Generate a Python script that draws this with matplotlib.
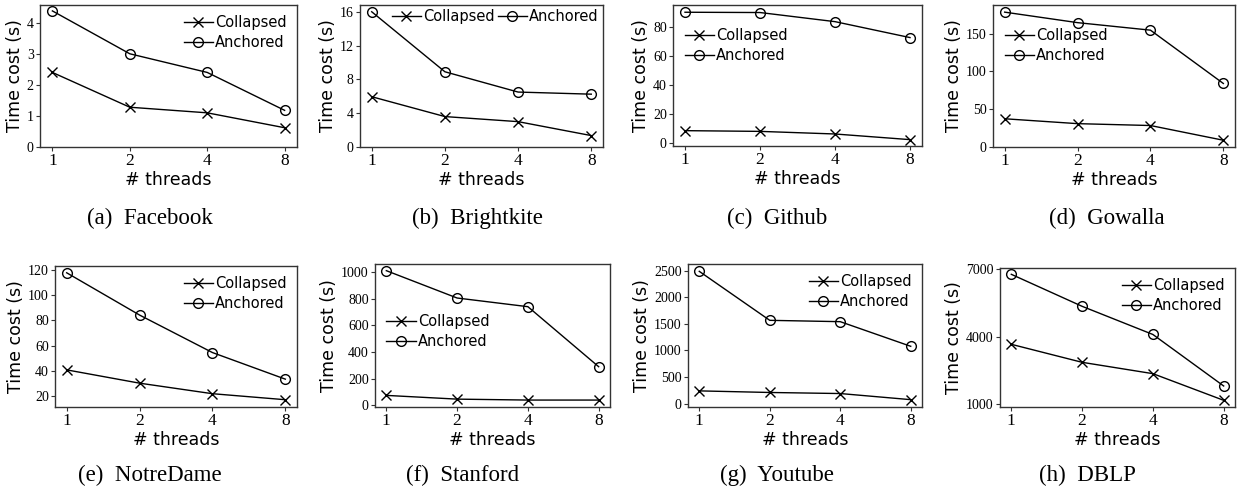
import matplotlib
matplotlib.use("Agg")
import matplotlib.pyplot as plt

threads = ["1", "2", "4", "8"]

names = ["Facebook", "Brightkite", "Github", "Gowalla",
         "NotreDame", "Stanford", "Youtube", "DBLP"]
letters = ["a", "b", "c", "d", "e", "f", "g", "h"]

collapsed_facebook = [2.4, 1.28, 1.1, 0.62]
anchored_facebook = [4.38, 3.0, 2.4, 1.18]
collapsed_brightkite = [5.95, 3.6, 3.0, 1.35]
anchored_brightkite = [16.0, 8.9, 6.5, 6.25]
collapsed_github = [8.7, 8.2, 6.4, 2.5]
anchored_github = [90.5, 90.3, 84.0, 73.0]
collapsed_gowalla = [37, 30.5, 28, 8.4]
anchored_gowalla = [179, 165, 155, 84]
collapsed_notredame = [40.6, 30, 21.6, 16.8]
anchored_notredame = [118, 84.3, 54.4, 33.2]
collapsed_stanford = [75, 47, 40, 40]
anchored_stanford = [1010, 805, 740, 290]
collapsed_youtube = [240, 210, 190, 75]
anchored_youtube = [2487, 1566, 1541, 1078]
collapsed_dblp = [3667, 2867, 2363, 1178]
anchored_dblp = [6778, 5356, 4104, 1815]

collapsed = [collapsed_facebook, collapsed_brightkite, collapsed_github, collapsed_gowalla,
             collapsed_notredame, collapsed_stanford, collapsed_youtube, collapsed_dblp]
anchored = [anchored_facebook, anchored_brightkite, anchored_github, anchored_gowalla,
            anchored_notredame, anchored_stanford, anchored_youtube, anchored_dblp]

yticks = [[0, 1, 2, 3, 4], [0, 4, 8, 12, 16], [0, 20, 40, 60, 80], [0, 50, 100, 150],
          [20, 40, 60, 80, 100, 120], [0, 200, 400, 600, 800, 1000],
          [0, 500, 1000, 1500, 2000, 2500], [1000, 4000, 7000]]
ylims = [(0, 4.57), (0, 16.8), (-1.9, 95.5), (-0.6, 188.5), (11, 123.4),
         (-12, 1060), (-63, 2625), (881, 7059)]

W, H = 1242, 491
# axes boxes in pixels: left, right, top, bottom
boxes = [(40, 297, 5, 147), (360, 603, 5, 147), (673, 922, 5, 146), (993, 1235, 5, 147),
         (55, 297, 266, 407), (375, 610, 264, 407), (688, 922, 264, 407), (1000, 1235, 268, 407)]
caption_x = [150, 477, 777, 1107, 150, 463, 777, 1087]
caption_y = [218, 218, 218, 218, 475, 475, 475, 475]

fig = plt.figure(figsize=(W / 100, H / 100), dpi=100)

for i in range(8):
    L, R, T, B = boxes[i]
    ax = fig.add_axes([L / W, 1 - B / H, (R - L) / W, (B - T) / H])
    xs = range(len(threads))
    ax.plot(xs, collapsed[i], color="black", lw=1.0, marker="x", ms=6.5, mew=1.0,
            label="Collapsed")
    ax.plot(xs, anchored[i], color="black", lw=1.0, marker="o", ms=7, mew=1.0,
            fillstyle="none", label="Anchored")
    ax.set_xticks(list(xs))
    ax.set_xticklabels(threads, fontfamily="Liberation Serif", fontsize=12.5)
    ax.set_yticks(yticks[i])
    ax.set_yticklabels([str(v) for v in yticks[i]], fontfamily="Liberation Serif", fontsize=10)
    ax.set_ylim(*ylims[i])
    ax.set_xlim(-0.16, 3.16)
    ax.tick_params(axis="both", length=3, width=0.8, pad=1.5, color="#333333")
    ax.set_xlabel("# threads", fontsize=12.5, labelpad=1)
    ax.set_ylabel("Time cost (s)", fontsize=12.5, labelpad=2)
    for s in ax.spines.values():
        s.set_linewidth(1.0)
        s.set_color("#333333")
    lkw = dict(frameon=False, fontsize=10.5, handletextpad=0.15, labelspacing=0.35,
               borderpad=0.3, handlelength=2.0)
    if i == 1:
        ax.legend(loc="upper right", ncol=2, columnspacing=0.2,
                  bbox_to_anchor=(1.0, 1.0), borderaxespad=0, **lkw)
    elif i in (2, 3):
        ax.legend(loc="upper left", bbox_to_anchor=(0.03, 0.87), borderaxespad=0, **lkw)
    elif i == 5:
        ax.legend(loc="upper left", bbox_to_anchor=(0.03, 0.68), borderaxespad=0, **lkw)
    else:
        ax.legend(loc="upper right", borderaxespad=0.4, **lkw)
    fig.text(caption_x[i] / W, 1 - caption_y[i] / H, f"({letters[i]})  {names[i]}",
             ha="center", va="center", fontfamily="Liberation Serif", fontsize=16.5)

fig.savefig("out.png", dpi=100)
